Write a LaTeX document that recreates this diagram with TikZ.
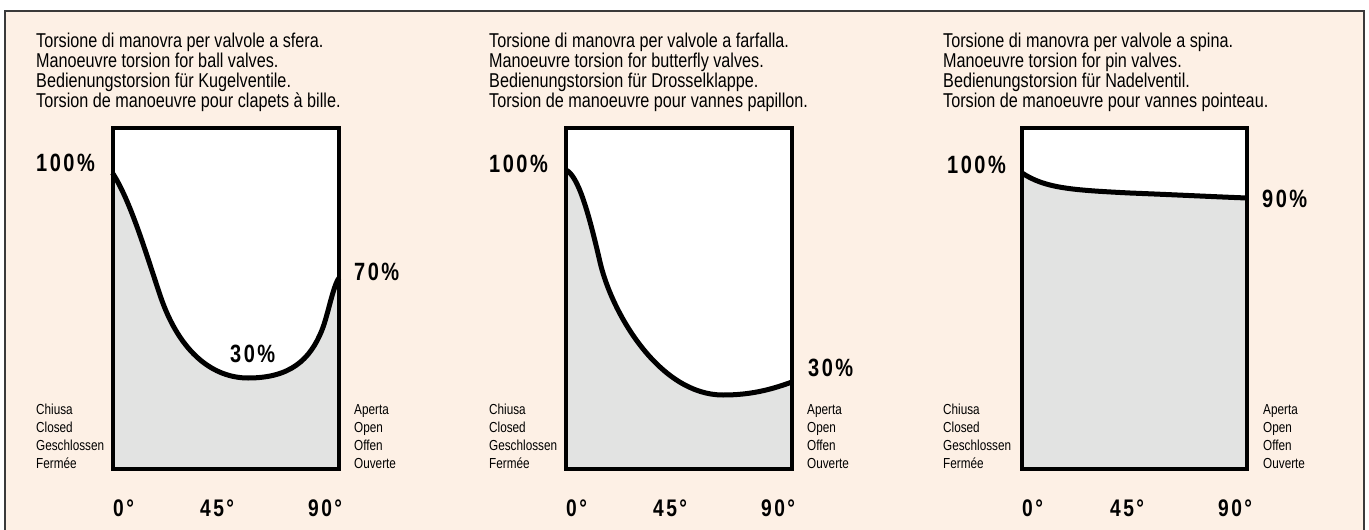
\documentclass[tikz,border=0pt]{standalone}
\usepackage{fontspec}
\setmainfont{Liberation Sans}
\newfontfamily\narrowfont{Liberation Sans}[FakeStretch=0.81]
\newfontfamily\pctfont{Liberation Sans}[FakeStretch=0.8,LetterSpace=10]
\usetikzlibrary{calc}

\definecolor{panelbg}{HTML}{FDF0E5}
\definecolor{areagray}{HTML}{E2E3E2}
\definecolor{framegray}{HTML}{3A3A3A}

\tikzset{
  headtext/.style={anchor=north west, inner sep=0pt, align=left, font=\narrowfont\fontsize{20}{20}\selectfont},
  sidetext/.style={anchor=south west, inner sep=0pt, align=left, font=\narrowfont\fontsize{14.5}{18.3}\selectfont},
  pcttext/.style={anchor=west, inner sep=0pt, font=\pctfont\bfseries\fontsize{25}{25}\selectfont},
  degtext/.style={anchor=west, inner sep=0pt, font=\pctfont\bfseries\fontsize{24}{24}\selectfont},
  chartbox/.style={line width=4pt},
  curve/.style={line width=5pt, line join=round},
}

\begin{document}
\begin{tikzpicture}[x=1pt,y=-1pt]
  \useasboundingbox (0,0) rectangle (1369,530);
  \fill[white] (0,0) rectangle (1369,530);
  \draw[framegray, fill=panelbg, line width=1.6pt] (5,11) rectangle (1364,560);

  % Ball valves
  \coordinate (A1) at (112.5,127.5);
  \coordinate (B1) at (339,469);
  \fill[white] (A1) rectangle (B1);
  \begin{scope}
    \clip (A1) rectangle (B1);
    \fill[areagray] (112.5,173) .. controls (130,200) and (145,250) .. (160,295)
      .. controls (180,355) and (215,378) .. (248,378)
      .. controls (290,378) and (310,360) .. (322,330)
      .. controls (328,315) and (333,286) .. (339,278) -- (B1) -- (A1 |- B1) -- cycle;
  \end{scope}
  \draw[curve] (112.5,173) .. controls (130,200) and (145,250) .. (160,295)
      .. controls (180,355) and (215,378) .. (248,378)
      .. controls (290,378) and (310,360) .. (322,330)
      .. controls (328,315) and (333,286) .. (339,278);
  \draw[chartbox] (A1) rectangle (B1);

  \node[headtext] (head1) at (36,32.8) {Torsione di manovra per valvole a sfera.\\Manoeuvre torsion for ball valves.\\Bedienungstorsion für Kugelventile.\\Torsion de manoeuvre pour clapets à bille.};
  \node[pcttext] (top1) at (36,163) {100\%};
  \node[pcttext] (low1) at (230,354) {30\%};
  \node[pcttext] (end1) at (354,272) {70\%};
  \node[sidetext] (closed1) at (36,469.3) {Chiusa\\Closed\\Geschlossen\\Fermée};
  \node[sidetext] (open1) at (354,469.3) {Aperta\\Open\\Offen\\Ouverte};
  \node[degtext] (deg1a) at (113,508) {0°};
  \node[degtext] (deg1b) at (200,508) {45°};
  \node[degtext] (deg1c) at (308,508) {90°};

  % Butterfly valves
  \coordinate (A2) at (566,127.5);
  \coordinate (B2) at (792,469);
  \fill[white] (A2) rectangle (B2);
  \begin{scope}
    \clip (A2) rectangle (B2);
    \fill[areagray] (566,170) .. controls (578,176) and (588,210) .. (600,262)
      .. controls (612,314) and (660,395) .. (723,395)
      .. controls (750,395) and (770,390) .. (792,382) -- (B2) -- (A2 |- B2) -- cycle;
  \end{scope}
  \draw[curve] (566,170) .. controls (578,176) and (588,210) .. (600,262)
      .. controls (612,314) and (660,395) .. (723,395)
      .. controls (750,395) and (770,390) .. (792,382);
  \draw[chartbox] (A2) rectangle (B2);

  \node[headtext] (head2) at (489,32.8) {Torsione di manovra per valvole a farfalla.\\Manoeuvre torsion for butterfly valves.\\Bedienungstorsion für Drosselklappe.\\Torsion de manoeuvre pour vannes papillon.};
  \node[pcttext] (top2) at (489,164) {100\%};
  \node[pcttext] (end2) at (808,368) {30\%};
  \node[sidetext] (closed2) at (489,469.3) {Chiusa\\Closed\\Geschlossen\\Fermée};
  \node[sidetext] (open2) at (807,469.3) {Aperta\\Open\\Offen\\Ouverte};
  \node[degtext] (deg2a) at (566,508) {0°};
  \node[degtext] (deg2b) at (653,508) {45°};
  \node[degtext] (deg2c) at (761,508) {90°};

  % Pin valves
  \coordinate (A3) at (1022,127.5);
  \coordinate (B3) at (1247,469);
  \fill[white] (A3) rectangle (B3);
  \begin{scope}
    \clip (A3) rectangle (B3);
    \fill[areagray] (1022,173) .. controls (1045,188) and (1070,190) .. (1130,193)
      .. controls (1180,195) and (1220,197) .. (1247,198) -- (B3) -- (A3 |- B3) -- cycle;
  \end{scope}
  \draw[curve] (1022,173) .. controls (1045,188) and (1070,190) .. (1130,193)
      .. controls (1180,195) and (1220,197) .. (1247,198);
  \draw[chartbox] (A3) rectangle (B3);

  \node[headtext] (head3) at (943,32.8) {Torsione di manovra per valvole a spina.\\Manoeuvre torsion for pin valves.\\Bedienungstorsion für Nadelventil.\\Torsion de manoeuvre pour vannes pointeau.};
  \node[pcttext] (top3) at (947,165) {100\%};
  \node[pcttext] (end3) at (1262,199) {90\%};
  \node[sidetext] (closed3) at (943,469.3) {Chiusa\\Closed\\Geschlossen\\Fermée};
  \node[sidetext] (open3) at (1263,469.3) {Aperta\\Open\\Offen\\Ouverte};
  \node[degtext] (deg3a) at (1022,508) {0°};
  \node[degtext] (deg3b) at (1110,508) {45°};
  \node[degtext] (deg3c) at (1218,508) {90°};
\end{tikzpicture}
\end{document}
